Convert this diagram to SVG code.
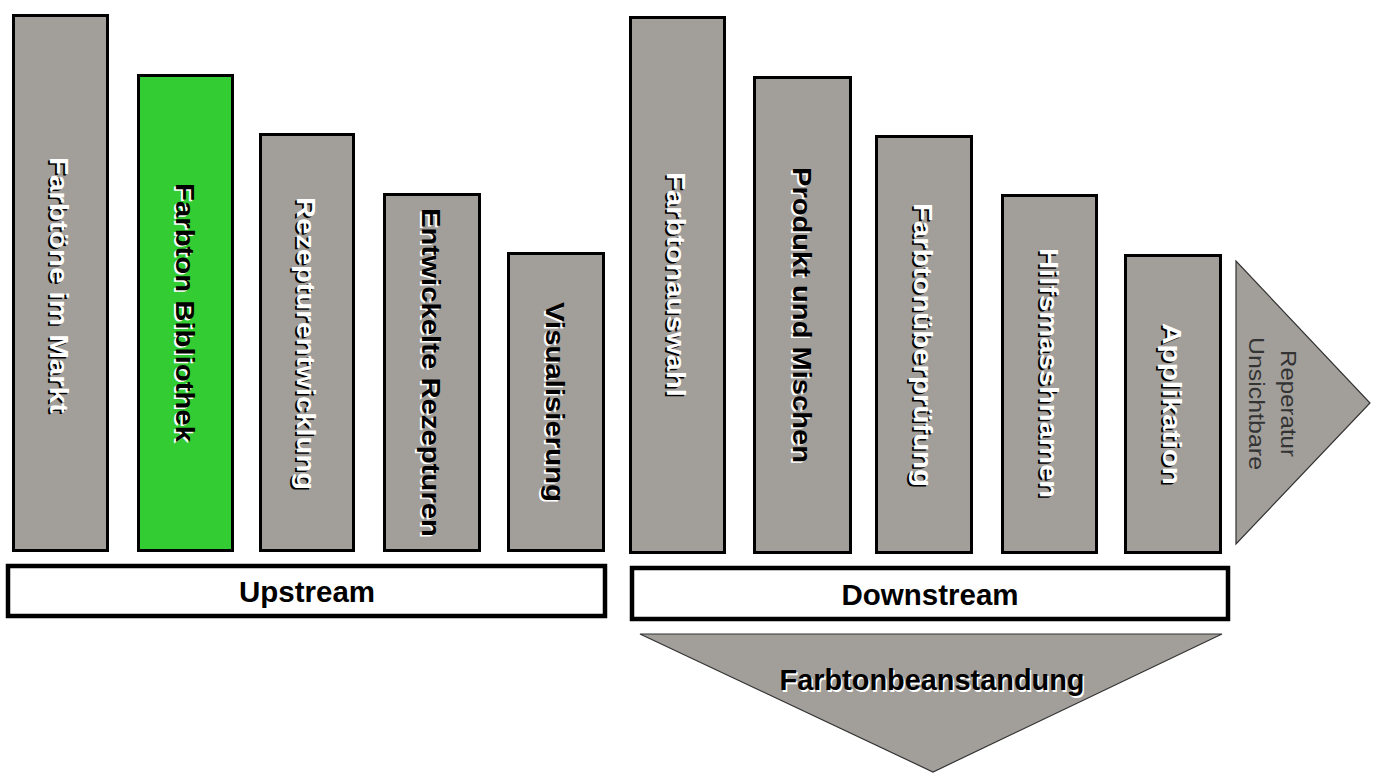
<svg xmlns="http://www.w3.org/2000/svg" width="1380" height="775" viewBox="0 0 1380 775">
<style>
.bar{fill:#a29f9b;stroke:#000;stroke-width:3}
.green{fill:#33cc33}
.band{fill:#fff;stroke:#000;stroke-width:4.5}
.tri{fill:#a29f9b;stroke:#333;stroke-width:1.2}
.lbl{font-family:"Liberation Sans",Arial,sans-serif;font-weight:bold;font-size:29.5px}
.thin{font-family:"Liberation Sans",Arial,sans-serif;font-size:25px;fill:#333}
.w{fill:#fff}
.k{fill:#000}
</style>
<rect width="1380" height="775" fill="#fff"/>
<g id="connectors"/>
<g id="n1"><rect class="bar" x="13.5" y="15.5" width="94" height="535"/>
<g transform="translate(50,157) rotate(90) scale(1,0.88)"><text class="lbl k" x="1.5" y="1.8" textLength="256" lengthAdjust="spacingAndGlyphs">Farbtöne im Markt</text><text class="lbl w" textLength="256" lengthAdjust="spacingAndGlyphs">Farbtöne im Markt</text></g></g>
<g id="n2"><rect class="bar green" x="138.5" y="75.5" width="94" height="475"/>
<g transform="translate(175.5,183) rotate(90) scale(1,0.88)"><text class="lbl w" x="1.5" y="1.8" textLength="259" lengthAdjust="spacingAndGlyphs">Farbton Bibliothek</text><text class="lbl k" textLength="259" lengthAdjust="spacingAndGlyphs">Farbton Bibliothek</text></g></g>
<g id="n3"><rect class="bar" x="260.5" y="134.5" width="93" height="416"/>
<g transform="translate(297,197) rotate(90) scale(1,0.88)"><text class="lbl k" x="1.5" y="1.8" textLength="293" lengthAdjust="spacingAndGlyphs">Rezepturentwicklung</text><text class="lbl w" textLength="293" lengthAdjust="spacingAndGlyphs">Rezepturentwicklung</text></g></g>
<g id="n4"><rect class="bar" x="384.5" y="194.5" width="95" height="356"/>
<g transform="translate(422,208) rotate(90) scale(1,0.88)"><text class="lbl w" x="1.5" y="1.8" textLength="329" lengthAdjust="spacingAndGlyphs">Entwickelte Rezepturen</text><text class="lbl k" textLength="329" lengthAdjust="spacingAndGlyphs">Entwickelte Rezepturen</text></g></g>
<g id="n5"><rect class="bar" x="508.5" y="253.5" width="95" height="297"/>
<g transform="translate(546,302) rotate(90) scale(1,0.88)"><text class="lbl w" x="1.5" y="1.8" textLength="200" lengthAdjust="spacingAndGlyphs">Visualisierung</text><text class="lbl k" textLength="200" lengthAdjust="spacingAndGlyphs">Visualisierung</text></g></g>
<g id="n6"><rect class="bar" x="630.5" y="17.5" width="94" height="535"/>
<g transform="translate(667,172) rotate(90) scale(1,0.88)"><text class="lbl k" x="1.5" y="1.8" textLength="225" lengthAdjust="spacingAndGlyphs">Farbtonauswahl</text><text class="lbl w" textLength="225" lengthAdjust="spacingAndGlyphs">Farbtonauswahl</text></g></g>
<g id="n7"><rect class="bar" x="754.5" y="77.5" width="96" height="475"/>
<g transform="translate(792.5,167) rotate(90) scale(1,0.88)"><text class="lbl w" x="1.5" y="1.8" textLength="296" lengthAdjust="spacingAndGlyphs">Produkt und Mischen</text><text class="lbl k" textLength="296" lengthAdjust="spacingAndGlyphs">Produkt und Mischen</text></g></g>
<g id="n8"><rect class="bar" x="876.5" y="136.5" width="95" height="416"/>
<g transform="translate(914,203) rotate(90) scale(1,0.88)"><text class="lbl k" x="1.5" y="1.8" textLength="284" lengthAdjust="spacingAndGlyphs">Farbtonüberprüfung</text><text class="lbl w" textLength="284" lengthAdjust="spacingAndGlyphs">Farbtonüberprüfung</text></g></g>
<g id="n9"><rect class="bar" x="1002.5" y="195.5" width="94" height="357"/>
<g transform="translate(1039.5,248) rotate(90) scale(1,0.88)"><text class="lbl k" x="1.5" y="1.8" textLength="250" lengthAdjust="spacingAndGlyphs">Hilfsmasshnamen</text><text class="lbl w" textLength="250" lengthAdjust="spacingAndGlyphs">Hilfsmasshnamen</text></g></g>
<g id="n10"><rect class="bar" x="1125.5" y="255.5" width="95" height="297"/>
<g transform="translate(1163,323) rotate(90) scale(1,0.88)"><text class="lbl k" x="1.5" y="1.8" textLength="162" lengthAdjust="spacingAndGlyphs">Applikation</text><text class="lbl w" textLength="162" lengthAdjust="spacingAndGlyphs">Applikation</text></g></g>
<g id="n11"><polygon class="tri" points="1236,261 1236,544 1370,403"/>
<g transform="translate(1249,337) rotate(90) scale(1,0.88)"><text class="thin" textLength="133" lengthAdjust="spacingAndGlyphs">Unsichtbare</text></g>
<g transform="translate(1281,350) rotate(90) scale(1,0.88)"><text class="thin" textLength="107" lengthAdjust="spacingAndGlyphs">Reperatur</text></g></g>
<g id="upstream"><rect class="band" x="8" y="566" width="597" height="50"/>
<text class="lbl k" x="307" y="602" text-anchor="middle">Upstream</text></g>
<g id="downstream"><rect class="band" x="632" y="568" width="596" height="51"/>
<text class="lbl k" x="930" y="605" text-anchor="middle">Downstream</text></g>
<g id="n12"><polygon class="tri" points="640,634 1222,634 933,772"/>
<text class="lbl w" x="933.5" y="691.5" text-anchor="middle" textLength="305" lengthAdjust="spacingAndGlyphs">Farbtonbeanstandung</text>
<text class="lbl k" x="932" y="690" text-anchor="middle" textLength="305" lengthAdjust="spacingAndGlyphs">Farbtonbeanstandung</text></g>
</svg>
